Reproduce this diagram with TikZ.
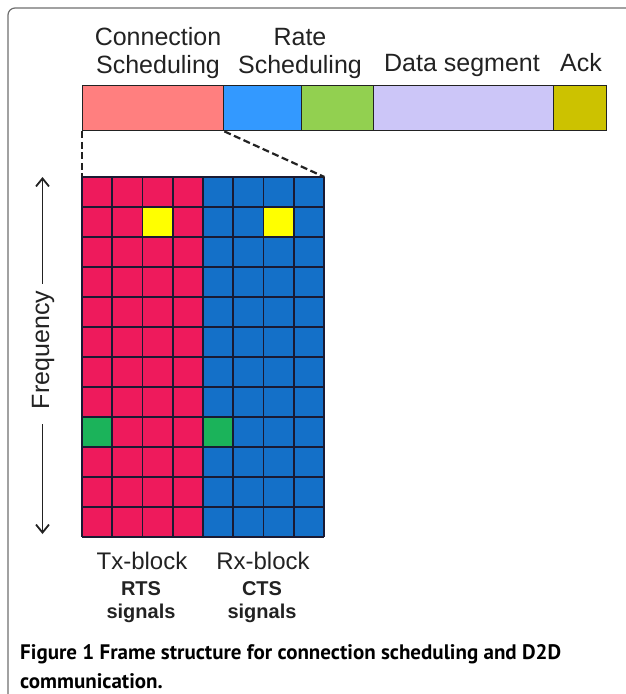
\documentclass[tikz,border=0pt]{standalone}
\usepackage{fontspec}
\setmainfont{Liberation Sans}
\newfontfamily\capfont{PT Sans}
\usetikzlibrary{arrows.meta}

\definecolor{framegray}{HTML}{6E6E6E}
\definecolor{segpink}{HTML}{FF7F7F}
\definecolor{segblue}{HTML}{3399FF}
\definecolor{seggreen}{HTML}{92D050}
\definecolor{seglav}{HTML}{CCC6F8}
\definecolor{segack}{HTML}{CCC200}
\definecolor{txred}{HTML}{EE1A5C}
\definecolor{rxblue}{HTML}{1470C8}
\definecolor{cellyel}{HTML}{FFFF00}
\definecolor{cellgrn}{HTML}{1BB35A}
\definecolor{gridline}{HTML}{1A1A33}
\definecolor{inkgray}{HTML}{222222}

\tikzset{
  seg/.style={draw=inkgray, line width=1.4pt, anchor=north west, inner sep=0pt,
    minimum height=45pt},
  head/.style={font=\fontsize{25}{28}\selectfont, text=inkgray, align=center, anchor=base, inner sep=0pt},
  blk/.style={anchor=north west, inner sep=0pt, minimum width=121pt, minimum height=360pt},
  zoomline/.style={draw=inkgray, line width=2.2pt, dash pattern=on 7pt off 3.5pt},
  gridrule/.style={draw=gridline, line width=1.6pt},
  axis/.style={draw=inkgray, line width=1.8pt, -{Straight Barb[length=8pt,width=13pt,line width=1.8pt]}},
  blabel/.style={font=\fontsize{24}{28}\selectfont, text=inkgray, anchor=base, inner sep=0pt},
  sig/.style={font=\bfseries\fontsize{20}{24}\selectfont, text=inkgray, anchor=base, inner sep=0pt, align=center},
  capline/.style={font=\capfont\bfseries\fontsize{21}{24}\selectfont, anchor=base west, inner sep=0pt}
}

\begin{document}
\begin{tikzpicture}[x=1pt,y=-1pt]
\useasboundingbox (0,0) rectangle (625,694);

% panel frame, open towards the right and bottom
\draw[framegray, line width=1.2pt, rounded corners=7pt] (8,700) |- (640,8);

% segment headings
\node[head] (hconn) at (158,45) {Connection};
\node[head] (hconn2) at (158,73) {Scheduling};
\node[head] (hrate) at (300,45) {Rate};
\node[head] (hrate2) at (300,73) {Scheduling};
\node[head] (hdata) at (462,71) {Data segment};
\node[head] (hack) at (581,71) {Ack};

% frame bar
\node[seg, fill=segpink,  minimum width=141pt] (s1) at (82,85)  {};
\node[seg, fill=segblue,  minimum width=78pt]  (s2) at (223,85) {};
\node[seg, fill=seggreen, minimum width=72pt]  (s3) at (301,85) {};
\node[seg, fill=seglav,   minimum width=180pt] (s4) at (373,85) {};
\node[seg, fill=segack,   minimum width=53pt]  (s5) at (553,85) {};

% resource grid: Tx and Rx blocks
\node[blk, fill=txred]  (tx) at (82,177) {};
\node[blk, fill=rxblue] (rx) at (203,177) {};

% occupied tiles
\fill[cellyel] (142.5,207) rectangle (172.75,237);
\fill[cellyel] (263.5,207) rectangle (293.75,237);
\fill[cellgrn] (82,417) rectangle (112.25,447);
\fill[cellgrn] (203,417) rectangle (233.25,447);

% grid rules
\foreach \i in {0,...,8}
  \draw[gridrule] ({82+30.25*\i},177) -- ({82+30.25*\i},537);
\foreach \j in {0,...,12}
  \draw[gridrule] (82,{177+30*\j}) -- (324,{177+30*\j});

% zoom-in guides from the connection-scheduling slot
\draw[zoomline] (s1.south west) -- (tx.north west);
\draw[zoomline] (s1.south east) -- (rx.north east);

% frequency axis
\node[font=\fontsize{25}{28}\selectfont, text=inkgray, rotate=90, inner sep=0pt] (freq) at (43,350) {Frequency};
\coordinate (ftop) at (42.5,177);
\coordinate (fbot) at (42.5,534);
\draw[axis] ([yshift=7pt]freq.east -| ftop) -- (ftop);
\draw[axis] ([yshift=-15pt]freq.west -| fbot) -- (fbot);

% block labels
\node[blabel] (txl) at (142,569) {Tx-block};
\node[blabel] (rxl) at (263,569) {Rx-block};
\node[sig] (rts) at (141,595) {RTS};
\node[sig] (rtss) at (141,618) {signals};
\node[sig] (cts) at (262,595) {CTS};
\node[sig] (ctss) at (262,618) {signals};

% caption
\node[capline] (cap1) at (20,659) {Figure 1 Frame structure for connection scheduling and D2D};
\node[capline] (cap2) at (20,688) {communication.};
\end{tikzpicture}
\end{document}
